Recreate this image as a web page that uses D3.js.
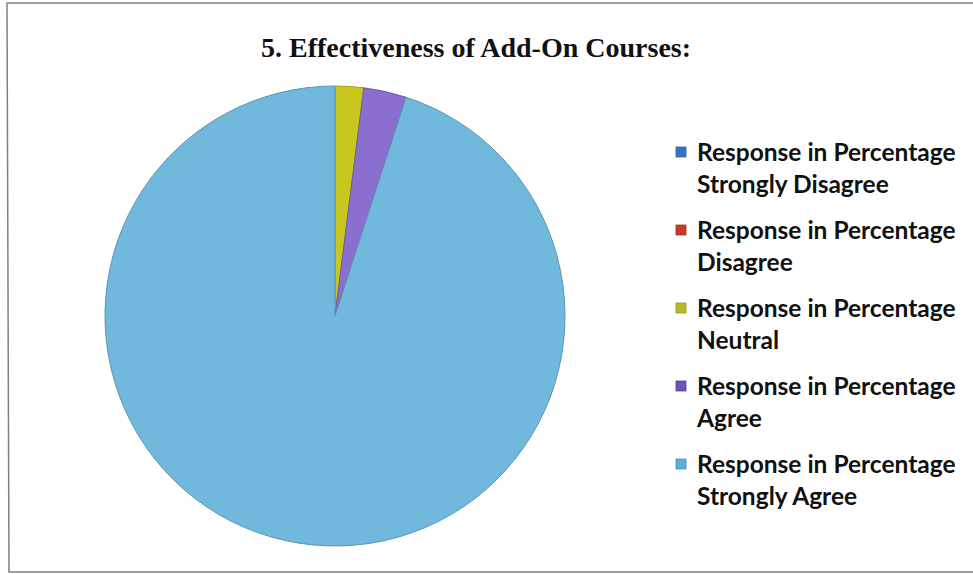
<!DOCTYPE html>
<html>
<head>
<meta charset="utf-8">
<script src="https://cdn.jsdelivr.net/npm/d3@7"></script>
<style>
    html, body { margin: 0; padding: 0; background: #fff; }
    svg { display: block; }
</style>
</head>
<body>
<div id="chart"></div>
<script>
(function () {

    'use strict';

    // chart data
    var chartTitle = '5. Effectiveness of Add-On Courses:';
    var seriesName = 'Response in Percentage';
    var categories = ['Strongly Disagree', 'Disagree', 'Neutral', 'Agree', 'Strongly Agree'];
    var responseValues = [0, 0, 2, 3, 95];
    var sliceColors = ['#3b7ac8', '#c8342c', '#c9c71e', '#8b6fcf', '#71b9dc'];
    var legendColors = ['#3a74c6', '#c63a2e', '#b6b826', '#6d52b8', '#5badda'];

    var width = 973;
    var height = 574;

    var pieCenter = [335, 316];
    var radius = 230;

    var svg = d3.select('#chart')
        .append('svg')
        .attr('width', width)
        .attr('height', height);

    // photo frame around the chart area
    svg.append('path')
        .attr('d', 'M985,3 L7,3 L9,572 L985,572')
        .attr('fill', 'none')
        .attr('stroke', '#8a7c7a')
        .attr('stroke-width', 1.5);

    svg.append('text')
        .attr('x', 476)
        .attr('y', 57)
        .attr('text-anchor', 'middle')
        .style('font-family', '"Liberation Serif", "Times New Roman", serif')
        .style('font-weight', 'bold')
        .style('font-size', '28px')
        .style('fill', '#111')
        .text(chartTitle);

    var chartData = categories.map(function (name, i) {
        return {name: name, numericValue: responseValues[i], index: i};
    });

    var pie = d3.pie()
        .sort(null)
        .value(function (d) { return d.numericValue; });

    var arc = d3.arc()
        .innerRadius(0)
        .outerRadius(radius);

    var color = d3.scaleOrdinal()
        .domain(categories)
        .range(sliceColors);

    var strokeColor = d3.scaleOrdinal()
        .domain(categories)
        .range(sliceColors.map(function (c) { return d3.color(c).darker(0.6).formatHex(); }));

    var pieGroup = svg.append('g')
        .attr('transform', 'translate(' + pieCenter[0] + ',' + pieCenter[1] + ')');

    pieGroup.selectAll('path.slice')
        .data(pie(chartData).filter(function (d) { return d.data.numericValue > 0; }))
        .enter()
        .append('path')
        .attr('class', 'slice')
        .attr('d', arc)
        .attr('fill', function (d) { return color(d.data.name); })
        .attr('stroke', function (d) { return strokeColor(d.data.name); })
        .attr('stroke-width', 1);

    // legend
    var legendX = 676;
    var legendTop = 153;
    var rowStep = 78;
    var lineStep = 32;

    var legend = svg.append('g')
        .selectAll('g.legend-item')
        .data(chartData)
        .enter()
        .append('g')
        .attr('class', 'legend-item')
        .attr('transform', function (d, i) {
            return 'translate(' + legendX + ',' + (legendTop + i * rowStep) + ')';
        });

    legend.append('rect')
        .attr('x', 0)
        .attr('y', -6)
        .attr('width', 10)
        .attr('height', 10)
        .attr('fill', function (d, i) { return legendColors[i]; })
        .attr('stroke', function (d, i) { return d3.color(legendColors[i]).darker(0.5).formatHex(); })
        .attr('stroke-width', 0.8);

    var legendText = legend.append('text')
        .attr('x', 21)
        .attr('y', 8)
        .style('font-family', 'Lato, "Open Sans", sans-serif')
        .style('font-weight', 'bold')
        .style('font-size', '24.5px')
        .style('fill', '#111');

    legendText.append('tspan')
        .attr('x', 21)
        .text(seriesName);

    legendText.append('tspan')
        .attr('x', 21)
        .attr('dy', lineStep)
        .text(function (d) { return d.name; });

}());
</script>
</body>
</html>
